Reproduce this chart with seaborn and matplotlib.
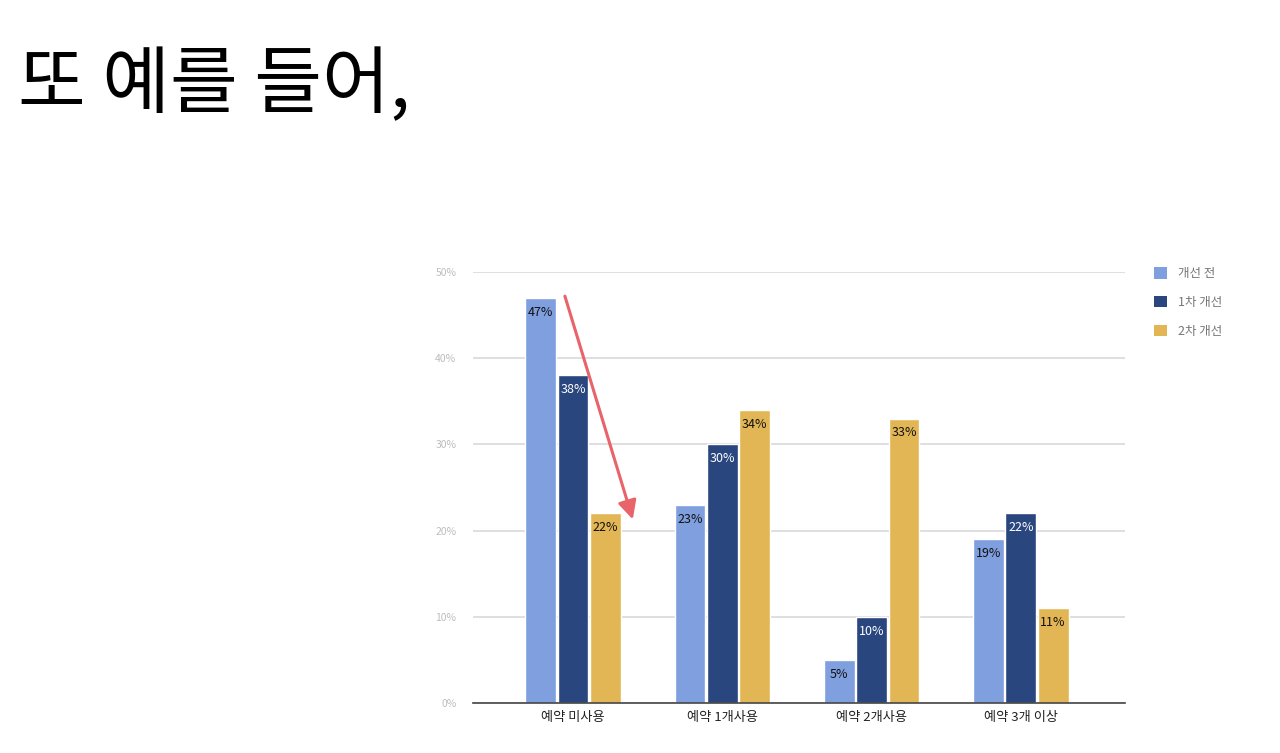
import matplotlib
matplotlib.use("Agg")
import matplotlib.pyplot as plt
import seaborn as sns
import pandas as pd
from matplotlib.patches import Patch

categories = ["예약 미사용", "예약 1개사용", "예약 2개사용", "예약 3개 이상"]
series_names = ["개선 전", "1차 개선", "2차 개선"]
before = [47, 23, 5, 19]
first = [38, 30, 10, 22]
second = [22, 34, 33, 11]
colors = ["#7F9FDF", "#2A467E", "#E3B655"]
label_colors = ["#111111", "#FFFFFF", "#111111"]

sns.set_theme(style="white")
plt.rcParams['font.family'] = ['Noto Sans CJK KR', 'DejaVu Sans']

rows = []
for s, vals in zip(series_names, [before, first, second]):
    for c, v in zip(categories, vals):
        rows.append({"cat": c, "series": s, "val": v})
df = pd.DataFrame(rows)

fig = plt.figure(figsize=(12.8, 7.53), dpi=100)
fig.text(0.014, 0.885, "또 예를 들어,", fontsize=53, color="#000000", va="center", ha="left")

ax = fig.add_axes([0.3695, 0.0664, 0.5094, 0.5724])
sns.barplot(data=df, x="cat", y="val", hue="series", order=categories,
            hue_order=series_names, palette=colors, width=0.65, gap=0.05,
            ax=ax, legend=False, saturation=1)

for cont, lc in zip(ax.containers, label_colors):
    ax.bar_label(cont, labels=[f"{int(v)}%" for v in cont.datavalues],
                 padding=-15, color=lc, fontsize=9)

ax.set_ylim(0, 50)
ax.set_xlim(-0.671, 3.698)
ax.set_yticks([0, 10, 20, 30, 40, 50])
ax.set_yticklabels([f"{t}%" for t in [0, 10, 20, 30, 40, 50]], color="#BDBDBD", fontsize=7.5)
ax.tick_params(axis="x", labelsize=9.5, colors="#222222", length=0, pad=6)
ax.tick_params(axis="y", length=0, pad=12)
ax.set_xlabel("")
ax.set_ylabel("")
ax.yaxis.grid(True, color="#D9D9D9", linewidth=1.2)
ax.set_axisbelow(True)
for sp in ["top", "right", "left"]:
    ax.spines[sp].set_visible(False)
ax.spines["bottom"].set_color("#444444")
ax.spines["bottom"].set_linewidth(1.2)

ax.annotate("", xy=(0.40, 21.3), xytext=(-0.055, 47.2),
            arrowprops=dict(arrowstyle="-|>", color="#E8636A", lw=2.2,
                            mutation_scale=28, shrinkA=0, shrinkB=0))

handles = [Patch(facecolor=c, edgecolor="none") for c in colors]
leg = fig.legend(handles, series_names, loc="upper left", bbox_to_anchor=(0.893, 0.66),
                 frameon=False, fontsize=9, handlelength=1.0, handleheight=1.0,
                 labelspacing=1.25, handletextpad=0.9)
for t in leg.get_texts():
    t.set_color("#757575")

fig.savefig("out.png", dpi=100)
